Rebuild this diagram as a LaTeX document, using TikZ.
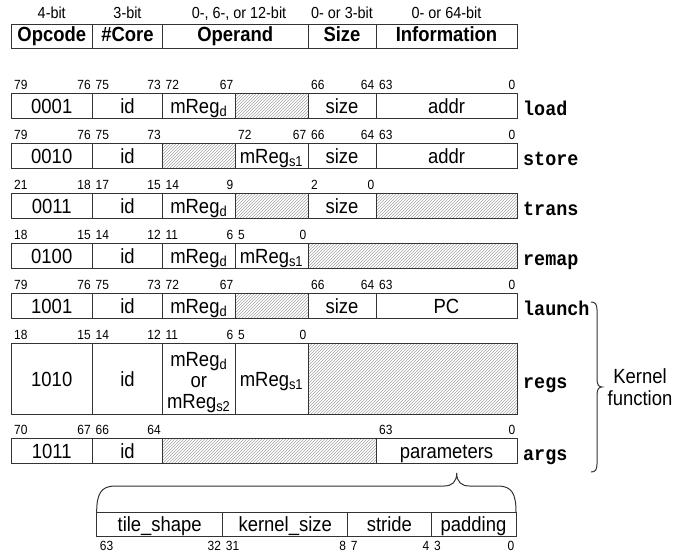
\documentclass[tikz,border=0pt]{standalone}
\usepackage{fontspec}
\setmainfont{Liberation Sans}[FakeStretch=0.9]
\setmonofont{Liberation Mono}[FakeStretch=0.92]
\usetikzlibrary{patterns}

\def\Ca{11}\def\Cb{92.5}\def\Cc{162.5}\def\Cd{235}\def\Ce{308}\def\Cf{376}\def\Cg{517}

\tikzset{
 cellbox/.style={draw=black!80, line width=1pt, inner sep=0pt, outer sep=0pt,
   text height=15pt, text depth=0pt, font=\fontsize{20.5}{23}\selectfont},
 hatchbox/.style={cellbox, pattern=north east lines, pattern color=black!35},
 hdrbox/.style={cellbox, text height=11.5pt, font=\fontsize{20.5}{23}\selectfont\bfseries},
 bitnum/.style={inner sep=0pt, font=\fontsize{13.3}{15}\selectfont},
 hdrbit/.style={inner sep=0pt, anchor=base, font=\fontsize{16}{18}\selectfont},
 oplabel/.style={inner sep=0pt, anchor=base west, font=\fontsize{20}{23}\selectfont\ttfamily\bfseries},
 celltext/.style={inner sep=0pt, anchor=base, font=\fontsize{20.5}{23}\selectfont},
 bracepath/.style={draw=black!80, line width=1pt},
}

\newcounter{nb}
\newcommand{\fcell}[7][cellbox]{\node[#1, minimum width={(#4)-(#3)}, minimum height={(#6)-(#5)}, anchor=north west] (#2) at (#3,#5) {#7};}
\newcommand{\lnum}[3]{\stepcounter{nb}\edef\nbname{nb\arabic{nb}}\node[bitnum, anchor=base west] (\nbname) at ({#1+3},{#2}) {#3};}
\newcommand{\rnum}[3]{\stepcounter{nb}\edef\nbname{nb\arabic{nb}}\node[bitnum, anchor=base east] (\nbname) at ({#1-1.5},{#2}) {#3};}

\begin{document}
\begin{tikzpicture}[x=1pt,y=-1pt]
\useasboundingbox (0,0) rectangle (691,557);

% header
\node[hdrbit] (hb0) at (51.75,18.5) {4-bit};
\node[hdrbit] (hb1) at (127.5,18.5) {3-bit};
\node[hdrbit] (hb2) at (239,18.5) {0-, 6-, or 12-bit};
\node[hdrbit] (hb3) at (342,18.5) {0- or 3-bit};
\node[hdrbit] (hb4) at (446.5,18.5) {0- or 64-bit};
\fcell[hdrbox]{h0}{\Ca}{\Cb}{24}{48}{Opcode}
\fcell[hdrbox]{h1}{\Cb}{\Cc}{24}{48}{\#Core}
\fcell[hdrbox]{h2}{\Cc}{\Ce}{24}{48}{Operand}
\fcell[hdrbox]{h3}{\Ce}{\Cf}{24}{48}{Size}
\fcell[hdrbox]{h4}{\Cf}{\Cg}{24}{48}{Information}

% load
\fcell{ld0}{\Ca}{\Cb}{93}{118}{0001}
\fcell{ld1}{\Cb}{\Cc}{93}{118}{id}
\fcell{ld2}{\Cc}{\Cd}{93}{118}{mReg\textsubscript{d}}
\fcell[hatchbox]{ld3}{\Cd}{\Ce}{93}{118}{}
\fcell{ld4}{\Ce}{\Cf}{93}{118}{size}
\fcell{ld5}{\Cf}{\Cg}{93}{118}{addr}
\node[oplabel] (lload) at (523,115) {load};
\lnum{\Ca}{89}{79}\rnum{\Cb}{89}{76}\lnum{\Cb}{89}{75}\rnum{\Cc}{89}{73}
\lnum{\Cc}{89}{72}\rnum{\Cd}{89}{67}\lnum{\Ce}{89}{66}\rnum{\Cf}{89}{64}
\lnum{\Cf}{89}{63}\rnum{\Cg}{89}{0}

% store
\fcell{st0}{\Ca}{\Cb}{143}{168}{0010}
\fcell{st1}{\Cb}{\Cc}{143}{168}{id}
\fcell[hatchbox]{st2}{\Cc}{\Cd}{143}{168}{}
\fcell{st3}{\Cd}{\Ce}{143}{168}{mReg\textsubscript{s1}}
\fcell{st4}{\Ce}{\Cf}{143}{168}{size}
\fcell{st5}{\Cf}{\Cg}{143}{168}{addr}
\node[oplabel] (lstore) at (523,165) {store};
\lnum{\Ca}{139}{79}\rnum{\Cb}{139}{76}\lnum{\Cb}{139}{75}\rnum{\Cc}{139}{73}
\lnum{\Cd}{139}{72}\rnum{\Ce}{139}{67}\lnum{\Ce}{139}{66}\rnum{\Cf}{139}{64}
\lnum{\Cf}{139}{63}\rnum{\Cg}{139}{0}

% trans
\fcell{tr0}{\Ca}{\Cb}{193}{218}{0011}
\fcell{tr1}{\Cb}{\Cc}{193}{218}{id}
\fcell{tr2}{\Cc}{\Cd}{193}{218}{mReg\textsubscript{d}}
\fcell[hatchbox]{tr3}{\Cd}{\Ce}{193}{218}{}
\fcell{tr4}{\Ce}{\Cf}{193}{218}{size}
\fcell[hatchbox]{tr5}{\Cf}{\Cg}{193}{218}{}
\node[oplabel] (ltrans) at (523,215) {trans};
\lnum{\Ca}{189}{21}\rnum{\Cb}{189}{18}\lnum{\Cb}{189}{17}\rnum{\Cc}{189}{15}
\lnum{\Cc}{189}{14}\rnum{\Cd}{189}{9}\lnum{\Ce}{189}{2}\rnum{\Cf}{189}{0}

% remap
\fcell{rm0}{\Ca}{\Cb}{243}{268}{0100}
\fcell{rm1}{\Cb}{\Cc}{243}{268}{id}
\fcell{rm2}{\Cc}{\Cd}{243}{268}{mReg\textsubscript{d}}
\fcell{rm3}{\Cd}{\Ce}{243}{268}{mReg\textsubscript{s1}}
\fcell[hatchbox]{rm4}{\Ce}{\Cg}{243}{268}{}
\node[oplabel] (lremap) at (523,265) {remap};
\lnum{\Ca}{239}{18}\rnum{\Cb}{239}{15}\lnum{\Cb}{239}{14}\rnum{\Cc}{239}{12}
\lnum{\Cc}{239}{11}\rnum{\Cd}{239}{6}\lnum{\Cd}{239}{5}\rnum{\Ce}{239}{0}

% launch
\fcell{la0}{\Ca}{\Cb}{293}{318}{1001}
\fcell{la1}{\Cb}{\Cc}{293}{318}{id}
\fcell{la2}{\Cc}{\Cd}{293}{318}{mReg\textsubscript{d}}
\fcell[hatchbox]{la3}{\Cd}{\Ce}{293}{318}{}
\fcell{la4}{\Ce}{\Cf}{293}{318}{size}
\fcell{la5}{\Cf}{\Cg}{293}{318}{PC}
\node[oplabel] (llaunch) at (523,315) {launch};
\lnum{\Ca}{289}{79}\rnum{\Cb}{289}{76}\lnum{\Cb}{289}{75}\rnum{\Cc}{289}{73}
\lnum{\Cc}{289}{72}\rnum{\Cd}{289}{67}\lnum{\Ce}{289}{66}\rnum{\Cf}{289}{64}
\lnum{\Cf}{289}{63}\rnum{\Cg}{289}{0}

% regs
\fcell{rg0}{\Ca}{\Cb}{343}{414}{1010}
\fcell{rg1}{\Cb}{\Cc}{343}{414}{id}
\fcell{rg2}{\Cc}{\Cd}{343}{414}{}
\node[celltext] (rg2a) at (198.75,366) {mReg\textsubscript{d}};
\node[celltext] (rg2b) at (198.75,387) {or};
\node[celltext] (rg2c) at (198.75,408) {mReg\textsubscript{s2}};
\fcell{rg3}{\Cd}{\Ce}{343}{414}{mReg\textsubscript{s1}}
\fcell[hatchbox]{rg4}{\Ce}{\Cg}{343}{414}{}
\node[oplabel] (lregs) at (523,388) {regs};
\lnum{\Ca}{339}{18}\rnum{\Cb}{339}{15}\lnum{\Cb}{339}{14}\rnum{\Cc}{339}{12}
\lnum{\Cc}{339}{11}\rnum{\Cd}{339}{6}\lnum{\Cd}{339}{5}\rnum{\Ce}{339}{0}

% args
\fcell{ar0}{\Ca}{\Cb}{438}{463}{1011}
\fcell{ar1}{\Cb}{\Cc}{438}{463}{id}
\fcell[hatchbox]{ar2}{\Cc}{\Cf}{438}{463}{}
\fcell{ar3}{\Cf}{\Cg}{438}{463}{parameters}
\node[oplabel] (largs) at (523,460) {args};
\lnum{\Ca}{434}{70}\rnum{\Cb}{434}{67}\lnum{\Cb}{434}{66}\rnum{\Cc}{434}{64}
\lnum{\Cf}{434}{63}\rnum{\Cg}{434}{0}

% kernel function brace
\draw[bracepath] (591,302) .. controls (595,302) and (597,304) .. (597,310) -- (597,379)
  .. controls (597,385) and (599,387) .. (602,387)
  .. controls (599,387) and (597,389) .. (597,395) -- (597,464)
  .. controls (597,470) and (595,472) .. (591,472);
\node[celltext] (kf1) at (640,383) {Kernel};
\node[celltext] (kf2) at (640,405) {function};

% parameter breakdown
\fcell{pb0}{96.7}{222.7}{512}{536}{tile\_shape}
\fcell{pb1}{222.7}{347.7}{512}{536}{kernel\_size}
\fcell{pb2}{347.7}{431}{512}{536}{stride}
\fcell{pb3}{431}{516}{512}{536}{padding}
\lnum{96.7}{550}{63}\rnum{222.7}{550}{32}\lnum{222.7}{550}{31}\rnum{347.7}{550}{8}
\lnum{347.7}{550}{7}\rnum{431}{550}{4}\lnum{431}{550}{3}\rnum{516}{550}{0}

\draw[bracepath] (pb0.north west) .. controls +(0,-18) and +(-14,0) .. (115,486) -- (444,486)
  .. controls (452,486) and (456.7,482) .. (456.7,473)
  .. controls (456.7,482) and (461.4,486) .. (469.4,486) -- (498,486)
  .. controls +(14,0) and +(0,-18) .. (pb3.north east);
\end{tikzpicture}
\end{document}
